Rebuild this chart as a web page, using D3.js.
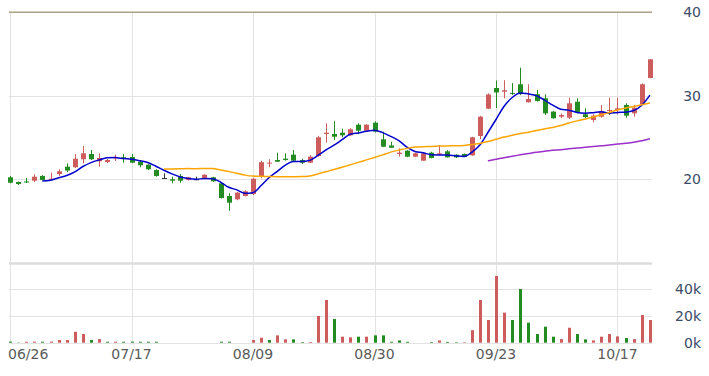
<!DOCTYPE html>
<html>
<head>
<meta charset="utf-8">
<script src="https://cdn.jsdelivr.net/npm/d3@7"></script>
<style>
  body { margin: 0; background: #fff; }
  svg { display: block; font-family: "DejaVu Sans", sans-serif; }
</style>
</head>
<body>
<svg id="chart" width="709" height="376"></svg>
<script>
// daily OHLC + volume
const open = [20.24,19.68,19.74,19.83,20.40,19.92,20.63,21.51,21.44,22.40,
  23.03,22.16,22.07,22.55,22.64,22.67,22.11,21.75,21.11,20.16,
  20.00,20.40,19.92,20.00,20.07,20.24,19.52,18.00,17.60,18.00,
  18.24,20.31,21.95,22.31,22.47,22.95,22.31,21.99,22.79,25.43,
  25.43,25.58,25.27,26.54,25.82,26.78,24.79,24.05,23.03,23.43,
  22.71,22.23,23.19,22.95,23.35,22.95,23.03,22.87,25.19,28.46,
  30.93,30.49,30.34,31.38,29.22,30.18,29.70,28.10,27.50,27.38,
  29.29,27.78,27.10,27.50,28.18,28.30,28.90,27.90,28.98,32.13];
const close = [19.59,19.44,19.65,20.31,19.92,20.07,20.96,21.05,22.47,23.11,
  22.40,22.55,22.31,22.61,22.55,21.99,21.68,21.20,20.40,20.16,
  19.83,19.83,20.24,20.00,20.55,19.76,17.76,17.20,18.40,18.56,
  20.07,22.05,22.00,22.11,22.31,22.23,21.99,22.71,25.03,25.58,
  25.10,25.27,25.99,25.82,26.54,25.70,23.90,23.78,23.19,22.71,
  23.11,23.11,22.55,23.11,22.63,22.63,22.71,25.03,27.50,30.16,
  30.40,30.66,30.25,30.20,29.62,29.38,27.90,27.31,27.70,29.10,
  28.02,27.46,27.62,28.18,28.30,28.50,27.62,28.57,31.38,34.37];
const high = [20.40,19.74,20.16,20.60,20.50,20.79,21.20,21.92,23.03,23.99,
  23.51,23.11,22.43,22.95,23.03,23.03,22.31,21.80,21.20,20.72,
  20.31,20.63,20.30,20.31,20.60,20.30,19.60,18.32,18.50,18.70,
  20.16,22.23,22.40,23.19,23.11,23.51,22.47,22.90,25.20,26.71,
  26.95,26.06,26.10,26.70,26.60,26.95,25.70,24.50,23.71,23.50,
  23.20,23.20,23.30,24.11,23.50,23.00,23.10,25.10,27.60,30.30,
  31.83,31.86,31.53,33.37,31.38,30.70,30.18,28.20,27.90,29.77,
  29.70,28.50,27.78,28.90,29.77,29.77,29.10,28.90,31.50,34.40];
const low = [19.52,19.32,19.56,19.68,19.85,19.90,20.40,20.87,21.35,21.92,
  22.31,21.51,21.95,22.19,21.99,21.95,21.44,21.10,20.31,20.07,
  19.52,19.59,19.85,19.92,20.00,19.70,17.70,16.24,17.50,17.95,
  18.10,20.12,21.44,22.07,22.23,22.07,21.83,21.95,22.70,24.38,
  24.71,25.03,25.20,25.40,25.80,25.60,23.85,23.75,22.71,22.65,
  22.65,22.20,22.50,22.91,22.60,22.55,22.65,22.80,24.79,28.40,
  28.54,29.70,30.10,30.10,29.20,29.30,27.70,27.25,27.31,27.22,
  27.90,27.31,26.83,27.38,27.70,27.78,27.38,27.50,28.90,32.10];
const volume = [800,200,700,800,700,800,2000,2000,8200,6500,
  2000,2700,700,700,700,800,700,700,700,0,
  0,0,0,0,0,0,700,700,0,0,
  2000,3700,2000,5500,2500,2500,500,500,20000,32000,
  17700,4500,4000,4500,4500,5500,5500,700,1700,700,
  0,0,500,1700,600,400,400,9400,32000,17000,
  50000,22500,17000,40200,15000,6500,12000,4500,2700,11200,
  6500,2500,1700,4500,6500,4700,3500,2700,20700,17000];

const tickIndex = [0, 15, 30, 45, 60, 75];
const tickLabels = ["06/26", "07/17", "08/09", "08/30", "09/23", "10/17"];
const priceTicks = [20, 30, 40];
const volTicks = [0, 20000, 40000];
const maPeriods = [5, 20, 60];
const maColors = ["#0000cd", "#ffa500", "#9b2fc9"];

const UP = "#cd5c5c", DOWN = "#228b22", FLAT = "#333";

const svg = d3.select("#chart");
const left = 9, right = 652;

const x = d3.scaleLinear().domain([0, close.length - 1]).range([10, 649.9]);
const y = d3.scaleLinear().domain([10, 40]).range([262.8, 12.3]);
const yv = d3.scaleLinear().domain([0, 60000]).range([342.7, 262.6]);

const data = close.map((c, i) => ({
  i, o: open[i], h: high[i], l: low[i], c, v: volume[i]
}));

// grid
const grid = svg.append("g");
grid.selectAll(".vgrid")
  .data(tickIndex)
  .join("line")
    .attr("x1", d => Math.round(x(d)) + 0.5)
    .attr("x2", d => Math.round(x(d)) + 0.5)
    .attr("y1", 12).attr("y2", 343)
    .attr("stroke", "#e3e3e3");

grid.selectAll(".pgrid")
  .data(priceTicks.filter(t => t < 40))
  .join("line")
    .attr("x1", left).attr("x2", right)
    .attr("y1", d => Math.round(y(d)) + 0.5)
    .attr("y2", d => Math.round(y(d)) + 0.5)
    .attr("stroke", "#e3e3e3");

grid.selectAll(".vgrid2")
  .data(volTicks.concat([60000]))
  .join("line")
    .attr("x1", left).attr("x2", right)
    .attr("y1", d => Math.round(yv(d)) + 0.5)
    .attr("y2", d => Math.round(yv(d)) + 0.5)
    .attr("stroke", d => d === 60000 ? "#dcdcdc" : "#e3e3e3")
    .attr("stroke-width", d => d === 60000 ? 2.5 : 1);

// top border of the price pane
svg.append("line")
  .attr("x1", left).attr("x2", right)
  .attr("y1", y(40)).attr("y2", y(40))
  .attr("stroke", "#aaa283").attr("stroke-width", 1.5);

// candles
const colorOf = d => d.c > d.o ? UP : d.c < d.o ? DOWN : FLAT;
const candles = svg.append("g").selectAll("g")
  .data(data)
  .join("g");

candles.append("line")
  .attr("x1", d => Math.round(x(d.i)) + 0.5)
  .attr("x2", d => Math.round(x(d.i)) + 0.5)
  .attr("y1", d => y(d.h))
  .attr("y2", d => y(d.l))
  .attr("stroke", colorOf);

candles.append("rect")
  .attr("x", d => Math.round(x(d.i)) - 2)
  .attr("width", 5)
  .attr("y", d => y(Math.max(d.o, d.c)))
  .attr("height", d => Math.max(1, Math.abs(y(d.o) - y(d.c))))
  .attr("fill", colorOf);

// moving averages
const line = d3.line()
  .x(d => x(d.i))
  .y(d => y(d.v))
  .curve(d3.curveMonotoneX);

maPeriods.forEach((n, k) => {
  const pts = data.slice(n - 1).map(d => ({
    i: d.i,
    v: d3.mean(close.slice(d.i - n + 1, d.i + 1))
  }));
  svg.append("path")
    .datum(pts)
    .attr("d", line)
    .attr("fill", "none")
    .attr("stroke", maColors[k])
    .attr("stroke-width", 1.5);
});

// volume, coloured by change against previous close
svg.append("g").selectAll("rect")
  .data(data.filter(d => d.v > 0))
  .join("rect")
    .attr("x", d => Math.round(x(d.i)) - 1)
    .attr("width", 3)
    .attr("y", d => yv(d.v))
    .attr("height", d => yv(0) - yv(d.v))
    .attr("fill", d => {
      const prev = d.i > 0 ? close[d.i - 1] : d.o;
      return d.c > prev ? UP : DOWN;
    });

// right axis labels
const axisColor = "#3b4a66";
svg.append("g").selectAll("text")
  .data(priceTicks)
  .join("text")
    .attr("x", 701)
    .attr("y", d => y(d))
    .attr("dy", "0.35em")
    .attr("text-anchor", "end")
    .attr("fill", axisColor)
    .style("font-size", "14px")
    .text(d => d);

svg.append("g").selectAll("text")
  .data(volTicks)
  .join("text")
    .attr("x", 701)
    .attr("y", d => yv(d))
    .attr("dy", "0.35em")
    .attr("text-anchor", "end")
    .attr("fill", axisColor)
    .style("font-size", "14px")
    .text(d => (d / 1000) + "k");

// date labels
svg.append("g").selectAll("text")
  .data(tickIndex)
  .join("text")
    .attr("x", (d, k) => k === 0 ? 8 : x(d))
    .attr("y", 354)
    .attr("dy", "0.35em")
    .attr("text-anchor", (d, k) => k === 0 ? "start" : "middle")
    .attr("fill", "#5a5a5a")
    .style("font-size", "14px")
    .text((d, k) => tickLabels[k]);
</script>
</body>
</html>
